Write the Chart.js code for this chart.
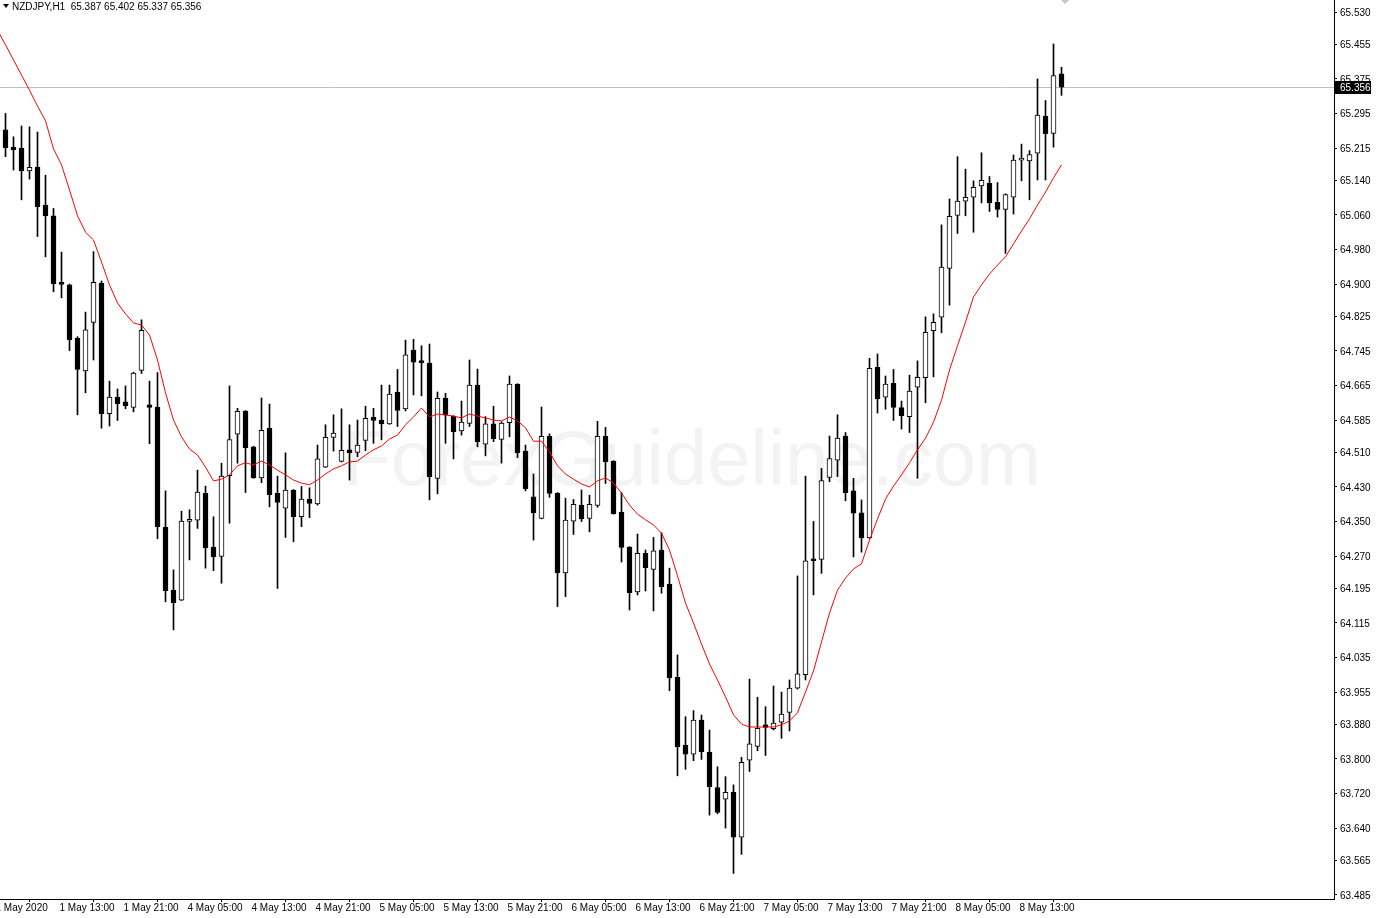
<!DOCTYPE html>
<html>
<head>
<meta charset="utf-8">
<script src="https://cdn.jsdelivr.net/npm/chart.js@4.4.0/dist/chart.umd.min.js"></script>
<style>
  html, body { margin: 0; padding: 0; background: #ffffff; }
  #wrap { width: 1376px; height: 918px; position: relative; }
</style>
</head>
<body>
<div id="wrap"><canvas id="chart" width="1376" height="918"></canvas></div>
<script>
// NZDJPY H1, bars 0..132 = 1 May 06:00 .. 8 May 18:00 (weekend skipped)
const symbol = "NZDJPY,H1";

const opens = [
  65.257, 65.217, 65.215, 65.162, 65.171, 65.083, 65.058, 64.900, 64.898, 64.775,
  64.699, 64.811, 64.902, 64.600, 64.638, 64.627, 64.614, 64.700, 64.620, 64.615,
  64.337, 64.191, 64.168, 64.350, 64.353, 64.415, 64.291, 64.269, 64.456, 64.552,
  64.606, 64.523, 64.451, 64.566, 64.415, 64.381, 64.423, 64.361, 64.402, 64.391,
  64.476, 64.545, 64.489, 64.516, 64.510, 64.538, 64.591, 64.585, 64.576, 64.650,
  64.611, 64.747, 64.722, 64.717, 64.450, 64.635, 64.594, 64.560, 64.577, 64.666,
  64.529, 64.576, 64.540, 64.579, 64.668, 64.513, 64.407, 64.357, 64.548, 64.415,
  64.231, 64.351, 64.388, 64.357, 64.387, 64.547, 64.490, 64.372, 64.291, 64.187,
  64.276, 64.239, 64.284, 64.205, 63.989, 63.832, 63.811, 63.890, 63.816, 63.734,
  63.707, 63.723, 63.619, 63.797, 63.829, 63.879, 63.870, 63.885, 63.908, 63.964,
  63.995, 64.263, 64.262, 64.452, 64.492, 64.548, 64.421, 64.370, 64.312, 64.707,
  64.638, 64.670, 64.614, 64.593, 64.661, 64.683, 64.792, 64.823, 64.936, 65.059,
  65.092, 65.101, 65.127, 65.133, 65.089, 65.073, 65.101, 65.187, 65.185, 65.203,
  65.289, 65.249, 65.387
];
const highs = [
  65.295, 65.241, 65.266, 65.264, 65.252, 65.152, 65.075, 64.974, 64.900, 64.778,
  64.835, 64.975, 64.907, 64.675, 64.657, 64.664, 64.696, 64.817, 64.675, 64.695,
  64.421, 64.238, 64.374, 64.377, 64.469, 64.432, 64.361, 64.485, 64.664, 64.612,
  64.607, 64.524, 64.636, 64.622, 64.455, 64.509, 64.424, 64.431, 64.428, 64.527,
  64.574, 64.597, 64.611, 64.574, 64.585, 64.617, 64.612, 64.666, 64.666, 64.702,
  64.770, 64.772, 64.757, 64.761, 64.650, 64.647, 64.595, 64.629, 64.724, 64.703,
  64.593, 64.617, 64.581, 64.687, 64.669, 64.527, 64.460, 64.615, 64.553, 64.417,
  64.404, 64.401, 64.423, 64.411, 64.582, 64.568, 64.491, 64.417, 64.292, 64.321,
  64.284, 64.313, 64.324, 64.242, 64.041, 63.898, 63.912, 63.902, 63.867, 63.782,
  63.759, 63.740, 63.804, 63.985, 63.943, 63.921, 63.969, 63.955, 63.983, 64.224,
  64.455, 64.350, 64.473, 64.548, 64.597, 64.556, 64.450, 64.400, 64.728, 64.738,
  64.687, 64.702, 64.629, 64.689, 64.722, 64.824, 64.831, 65.037, 65.097, 65.195,
  65.166, 65.139, 65.204, 65.149, 65.135, 65.109, 65.199, 65.224, 65.209, 65.375,
  65.325, 65.456, 65.402
];
const lows = [
  65.195, 65.164, 65.095, 65.143, 65.010, 64.963, 64.882, 64.868, 64.746, 64.597,
  64.648, 64.724, 64.566, 64.571, 64.584, 64.611, 64.604, 64.693, 64.530, 64.310,
  64.164, 64.099, 64.167, 64.261, 64.334, 64.242, 64.236, 64.207, 64.346, 64.485,
  64.417, 64.450, 64.440, 64.384, 64.195, 64.313, 64.303, 64.338, 64.359, 64.388,
  64.475, 64.513, 64.488, 64.446, 64.500, 64.514, 64.531, 64.539, 64.575, 64.570,
  64.606, 64.643, 64.641, 64.400, 64.414, 64.531, 64.495, 64.550, 64.570, 64.523,
  64.502, 64.535, 64.485, 64.546, 64.498, 64.421, 64.307, 64.356, 64.406, 64.153,
  64.176, 64.320, 64.350, 64.326, 64.383, 64.438, 64.367, 64.256, 64.145, 64.180,
  64.189, 64.143, 64.184, 63.958, 63.761, 63.776, 63.796, 63.799, 63.670, 63.673,
  63.640, 63.535, 63.579, 63.771, 63.819, 63.808, 63.867, 63.848, 63.865, 63.962,
  63.983, 64.180, 64.230, 64.442, 64.454, 64.398, 64.268, 64.279, 64.311, 64.601,
  64.610, 64.584, 64.564, 64.556, 64.450, 64.625, 64.685, 64.787, 64.851, 65.017,
  65.058, 65.020, 65.088, 65.068, 65.055, 64.971, 65.062, 65.139, 65.095, 65.141,
  65.141, 65.217, 65.337
];
const closes = [
  65.216, 65.211, 65.162, 65.170, 65.079, 65.058, 64.901, 64.899, 64.771, 64.702,
  64.794, 64.904, 64.600, 64.638, 64.623, 64.618, 64.694, 64.793, 64.614, 64.338,
  64.190, 64.162, 64.351, 64.355, 64.418, 64.289, 64.268, 64.455, 64.540, 64.605,
  64.521, 64.451, 64.561, 64.412, 64.394, 64.423, 64.361, 64.402, 64.392, 64.495,
  64.545, 64.555, 64.515, 64.509, 64.527, 64.589, 64.584, 64.576, 64.645, 64.607,
  64.736, 64.719, 64.718, 64.454, 64.635, 64.596, 64.558, 64.580, 64.666, 64.535,
  64.576, 64.542, 64.578, 64.668, 64.509, 64.426, 64.370, 64.547, 64.415, 64.231,
  64.353, 64.390, 64.356, 64.390, 64.547, 64.488, 64.368, 64.290, 64.185, 64.276,
  64.243, 64.282, 64.199, 63.988, 63.828, 63.811, 63.890, 63.817, 63.736, 63.676,
  63.723, 63.619, 63.792, 63.835, 63.871, 63.873, 63.883, 63.904, 63.964, 63.997,
  64.259, 64.259, 64.445, 64.496, 64.543, 64.417, 64.369, 64.312, 64.705, 64.634,
  64.668, 64.614, 64.595, 64.652, 64.684, 64.788, 64.811, 64.939, 65.057, 65.092,
  65.101, 65.124, 65.140, 65.088, 65.073, 65.107, 65.187, 65.188, 65.200, 65.291,
  65.248, 65.383, 65.356
];

// red moving average, first value belongs to bar -1 (just off the left edge)
const maValues = [
  65.488,
  65.454, 65.419, 65.384, 65.349, 65.312, 65.278, 65.213, 65.176, 65.118, 65.058,
  65.020, 65.002, 64.951, 64.898, 64.856, 64.831, 64.810, 64.805, 64.782, 64.724,
  64.648, 64.585, 64.546, 64.518, 64.504, 64.476, 64.444, 64.448, 64.458, 64.479,
  64.486, 64.481, 64.490, 64.481, 64.469, 64.458, 64.446, 64.439, 64.435, 64.446,
  64.460, 64.472, 64.479, 64.488, 64.490, 64.504, 64.516, 64.525, 64.541, 64.550,
  64.574, 64.592, 64.613, 64.592, 64.599, 64.597, 64.594, 64.590, 64.599, 64.594,
  64.590, 64.585, 64.583, 64.592, 64.583, 64.567, 64.536, 64.536, 64.511, 64.479,
  64.460, 64.448, 64.437, 64.430, 64.444, 64.451, 64.439, 64.416, 64.388, 64.367,
  64.354, 64.342, 64.323, 64.284, 64.224, 64.161, 64.115, 64.066, 64.020, 63.983,
  63.944, 63.902, 63.881, 63.874, 63.874, 63.874, 63.874, 63.879, 63.888, 63.907,
  63.955, 64.004, 64.071, 64.138, 64.191, 64.219, 64.240, 64.252, 64.307, 64.356,
  64.402, 64.432, 64.458, 64.486, 64.516, 64.543, 64.580, 64.631, 64.701, 64.757,
  64.812, 64.870, 64.898, 64.923, 64.944, 64.963, 64.993, 65.023, 65.051, 65.083,
  65.113, 65.146, 65.176
];

const priceTicks = [
  65.530, 65.455, 65.375, 65.295, 65.215, 65.140, 65.060, 64.980, 64.900, 64.825,
  64.745, 64.665, 64.585, 64.510, 64.430, 64.350, 64.270, 64.195, 64.115, 64.035,
  63.955, 63.880, 63.800, 63.720, 63.640, 63.565, 63.485
];

const timeLabels = [
  "1 May 2020", "1 May 13:00", "1 May 21:00", "4 May 05:00", "4 May 13:00",
  "4 May 21:00", "5 May 05:00", "5 May 13:00", "5 May 21:00", "6 May 05:00",
  "6 May 13:00", "6 May 21:00", "7 May 05:00", "7 May 13:00", "7 May 21:00",
  "8 May 05:00", "8 May 13:00"
];
const timeLabelBars = [-1, 7, 15, 23, 31, 39, 47, 55, 63, 71, 79, 87, 95, 103, 111, 119, 127];

const bidPrice = 65.356;
const headerQuote = [65.387, 65.402, 65.337, 65.356];

// visible window: 8 px per bar, area 1334 x 899
const xMin = -0.6875;
const xMax = 166.0625;
const yMin = 63.4757;
const yMax = 65.5578;

const FONT = '"Liberation Sans", Arial, sans-serif';

const wickData = opens.map((o, i) => ({ x: i, y: [lows[i], highs[i]] }));
const bodyData = opens.map((o, i) => ({ x: i, y: [o, closes[i]] }));
const bodyFill = opens.map((o, i) => (closes[i] >= o ? "#ffffff" : "#000000"));
const maData = maValues.map((v, k) => ({ x: k - 1, y: v }));

const decor = {
  id: "decor",
  beforeDatasetsDraw(chart) {
    const { ctx, chartArea } = chart;
    ctx.save();
    ctx.beginPath();
    ctx.rect(chartArea.left, chartArea.top, chartArea.width, chartArea.height);
    ctx.clip();
    // watermark
    ctx.fillStyle = "#f3f3f3";
    ctx.font = `78px ${FONT}`;
    ctx.textAlign = "center";
    ctx.textBaseline = "middle";
    ctx.fillText("ForexGuideline.com", 692, 463);
    // bid line
    const yb = Math.round(chart.scales.y.getPixelForValue(bidPrice)) + 0.5;
    ctx.strokeStyle = "#c0c0c0";
    ctx.lineWidth = 1;
    ctx.beginPath();
    ctx.moveTo(chartArea.left, yb);
    ctx.lineTo(chartArea.right, yb);
    ctx.stroke();
    ctx.restore();
  },
  afterDraw(chart) {
    const { ctx, chartArea } = chart;
    ctx.save();
    // header
    ctx.fillStyle = "#000";
    ctx.beginPath();
    ctx.moveTo(3, 4);
    ctx.lineTo(9, 4);
    ctx.lineTo(6, 8);
    ctx.closePath();
    ctx.fill();
    ctx.font = `10px ${FONT}`;
    ctx.textBaseline = "middle";
    ctx.textAlign = "left";
    ctx.fillText(`${symbol}  ${headerQuote.map((v) => v.toFixed(3)).join(" ")}`, 12, 7);
    // bid label on price axis
    const yb = Math.round(chart.scales.y.getPixelForValue(bidPrice));
    ctx.fillStyle = "#000";
    ctx.fillRect(chartArea.right + 1, yb - 6, 36, 13);
    ctx.fillStyle = "#fff";
    ctx.fillText(bidPrice.toFixed(3), chartArea.right + 6, yb + 1);
    // chart shift marker
    ctx.fillStyle = "#c8c8c8";
    ctx.beginPath();
    ctx.moveTo(1061, 0);
    ctx.lineTo(1069, 0);
    ctx.lineTo(1065, 4);
    ctx.closePath();
    ctx.fill();
    ctx.restore();
  },
};

new Chart(document.getElementById("chart"), {
  type: "bar",
  data: {
    datasets: [
      {
        type: "line",
        data: maData,
        borderColor: "#ff0000",
        borderWidth: 1,
        pointRadius: 0,
        tension: 0,
        order: 0,
      },
      {
        data: bodyData,
        backgroundColor: bodyFill,
        borderColor: "#000000",
        borderWidth: 1,
        borderSkipped: false,
        barThickness: 5,
        minBarLength: 2,
        grouped: false,
        order: 1,
      },
      {
        data: wickData,
        backgroundColor: "#000000",
        borderWidth: 0,
        barThickness: 1,
        grouped: false,
        order: 2,
      },
    ],
  },
  options: {
    responsive: false,
    animation: false,
    events: [],
    layout: { padding: 0, autoPadding: false },
    plugins: { legend: { display: false }, tooltip: { enabled: false } },
    scales: {
      x: {
        type: "linear",
        min: xMin,
        max: xMax,
        offset: false,
        grid: { drawOnChartArea: false, drawTicks: true, tickLength: 3, color: "#000" },
        border: { display: true, color: "#000" },
        ticks: {
          autoSkip: false,
          maxRotation: 0,
          align: "start",
          padding: 0,
          labelOffset: -2,
          color: "#000",
          font: { family: FONT, size: 10 },
          callback: (v) => timeLabels[timeLabelBars.indexOf(v)] ?? "",
        },
        afterBuildTicks: (s) => { s.ticks = timeLabelBars.map((v) => ({ value: v })); },
        afterFit: (s) => {
          s.height = 19;
          s.paddingLeft = 0;
          s.paddingRight = 0;
        },
      },
      y: {
        position: "right",
        min: yMin,
        max: yMax,
        grid: { drawOnChartArea: false, drawTicks: true, tickLength: 3, color: "#000" },
        border: { display: true, color: "#000" },
        ticks: {
          padding: 3,
          labelOffset: 1,
          color: "#000",
          font: { family: FONT, size: 10 },
          callback: (v) => Number(v).toFixed(3),
        },
        afterBuildTicks: (s) => { s.ticks = priceTicks.map((v) => ({ value: v })); },
        afterFit: (s) => {
          s.width = 42;
          s.paddingTop = 0;
          s.paddingBottom = 0;
        },
      },
    },
  },
  plugins: [decor],
});
</script>
</body>
</html>
